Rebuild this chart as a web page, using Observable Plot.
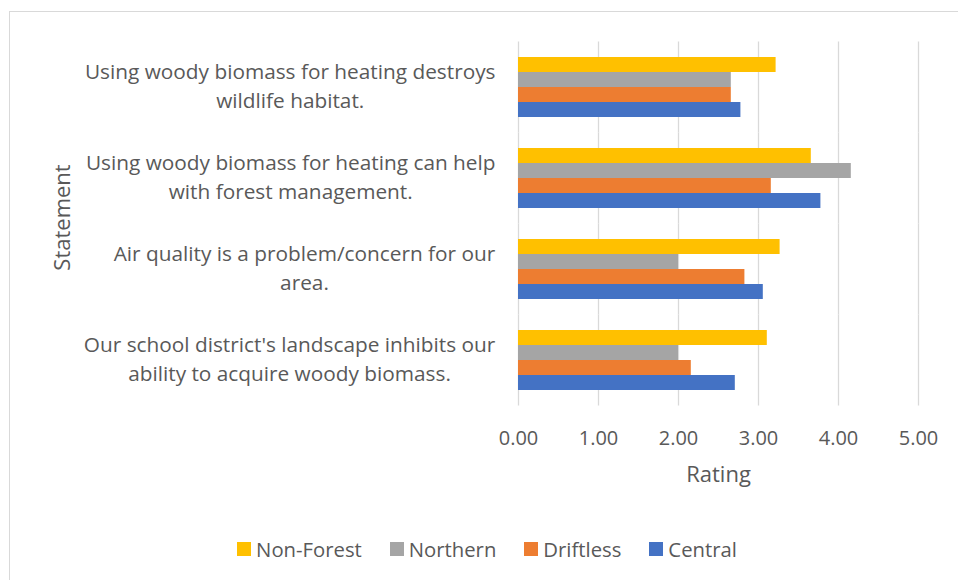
<!DOCTYPE html>
<html>
<head>
<meta charset="utf-8">
<script src="https://cdn.jsdelivr.net/npm/d3@7"></script>
<script src="https://cdn.jsdelivr.net/npm/@observablehq/plot@0.6"></script>
<style>
  html, body { margin: 0; padding: 0; background: #fff; }
  body { width: 958px; height: 580px; position: relative; overflow: hidden; font-family: "Open Sans", sans-serif; }
  #frame { position: absolute; left: 9px; top: 11px; right: -2px; bottom: -2px; border-left: 1px solid #d9d9d9; border-top: 1px solid #d9d9d9; }
  #chart { position: absolute; left: 0; top: 0; }
  #legend { position: absolute; left: 0; top: 535px; width: 958px; box-sizing: border-box; padding-left: 16px;
            display: flex; justify-content: center; align-items: center; font-size: 20.3px; color: #595959; line-height: 28px; }
  .item { display: flex; align-items: center; margin: 0 14px; }
  .sw { width: 14px; height: 14px; margin-right: 5px; }
</style>
</head>
<body>
<div id="frame"></div>
<div id="chart"></div>
<div id="legend"></div>
<script>
// ---- data ----
const statements = [
  "Using woody biomass for heating destroys\nwildlife habitat.",
  "Using woody biomass for heating can help\nwith forest management.",
  "Air quality is a problem/concern for our\narea.",
  "Our school district's landscape inhibits our\nability to acquire woody biomass."
];
const regions = ["Non-Forest", "Northern", "Driftless", "Central"];
const regionColors = ["#FFC000", "#A5A5A5", "#ED7D31", "#4472C4"];
const nonForest = [3.22, 3.66, 3.27, 3.11];
const northern  = [2.66, 4.16, 2.00, 2.00];
const driftless = [2.66, 3.16, 2.83, 2.16];
const central   = [2.78, 3.78, 3.06, 2.71];
const xTicks = [0, 1, 2, 3, 4, 5];
const xTitle = "Rating";
const yTitle = "Statement";

const series = [nonForest, northern, driftless, central];
const rows = statements.flatMap((s, i) =>
  regions.map((r, j) => ({statement: s, region: r, value: series[j][i]}))
);

const halfGap = 14.5;

const chart = Plot.plot({
  width: 958,
  height: 500,
  marginLeft: 518,
  marginRight: 40,
  marginTop: 40,
  marginBottom: 93,
  style: {fontFamily: "'Open Sans', sans-serif", fontSize: "20px", color: "#595959", background: "transparent", overflow: "visible"},
  x: {domain: [0, 5]},
  y: {domain: regions, padding: 0, axis: null},
  fy: {domain: statements, paddingInner: 0.316, paddingOuter: 0.158},
  color: {domain: regions, range: regionColors},
  marks: [
    Plot.ruleX(xTicks, {x: d => d, stroke: "#d9d9d9", strokeWidth: 1.3, insetTop: -halfGap, insetBottom: -halfGap}),
    Plot.barX(rows, {x: "value", y: "region", fy: "statement", fill: "region"}),
    Plot.axisX({ticks: xTicks, tickFormat: d3.format(".2f"), tickSize: 0, tickPadding: 39, label: null, fill: "#595959"}),
    Plot.axisFy({anchor: "left", tickSize: 0, tickPadding: 23, label: null, fontSize: 20.8, lineHeight: 1.37, dy: -3, fill: "#595959"}),
    Plot.text([xTitle], {fy: [statements[3]], frameAnchor: "bottom", lineAnchor: "bottom", dy: 90.5, fontSize: 22, fill: "#595959"}),
    Plot.text([yTitle], {fy: [statements[1]], frameAnchor: "bottom-left", dx: -456, dy: 8, rotate: -90, textAnchor: "middle", lineAnchor: "middle", fontSize: 22, fill: "#595959"})
  ]
});
document.getElementById("chart").appendChild(chart);

// center each line of the multi-line statement labels within its block (right edge kept)
chart.querySelectorAll('g[aria-label="fy-axis tick label"] text').forEach(t => {
  const w = t.getBBox().width;
  t.setAttribute("text-anchor", "middle");
  const tr = t.getAttribute("transform") || "";
  t.setAttribute("transform", tr + ` translate(${-w / 2},0)`);
});

// legend
const legend = document.getElementById("legend");
regions.forEach((r, i) => {
  const item = document.createElement("div");
  item.className = "item";
  const sw = document.createElement("span");
  sw.className = "sw";
  sw.style.background = regionColors[i];
  const lab = document.createElement("span");
  lab.textContent = r;
  item.appendChild(sw);
  item.appendChild(lab);
  legend.appendChild(item);
});
</script>
</body>
</html>
